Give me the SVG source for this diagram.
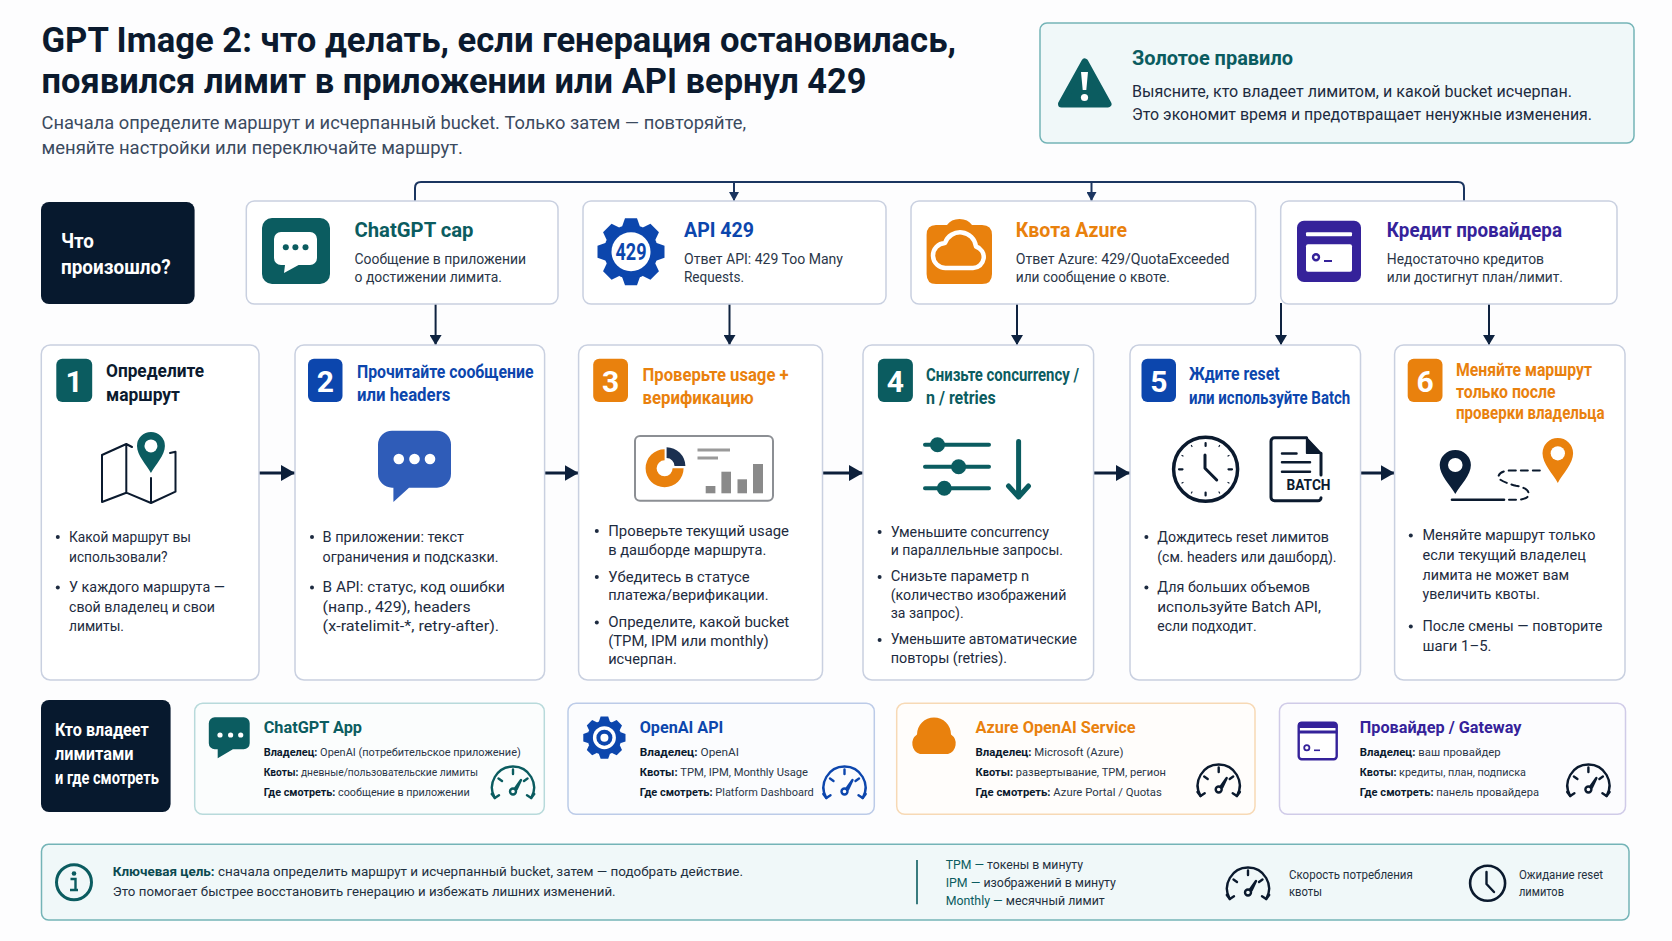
<svg xmlns="http://www.w3.org/2000/svg" width="1672" height="941" viewBox="0 0 1672 941">
<style>
text{font-family:"Roboto","Liberation Sans",sans-serif;fill:#1d2b40}
.h1{font-size:35px;font-weight:700;fill:#0b1a2e}
.sub{font-size:18px;fill:#3b4a5e}
.gh{font-size:20px;font-weight:700;fill:#0b5c60}
.gt{font-size:16px;fill:#1d2b40}
.dark{fill:#07192e}
.wt{font-size:20px;font-weight:700;fill:#fff}
.wt2{font-size:18px;font-weight:700;fill:#fff}
.ct{font-size:21px;font-weight:700}
.cd{font-size:14px;fill:#2a3648}
.st{font-size:18.5px;font-weight:700}
.dg{font-size:30px;font-weight:700;fill:#fff;text-anchor:middle}
.bl{font-size:14.5px;fill:#1d2b40}
.ot{font-size:16.5px;font-weight:700}
.ol{font-size:11.5px;fill:#2a3648}
.ol tspan{font-weight:700;fill:#0b1a2e}
.ft{font-size:13.5px;fill:#1f3040}
.ft tspan{font-weight:700;fill:#0b4a50}
.lg{font-size:13px;fill:#1f3040}
.lg tspan{fill:#0b5c60}
.sm{font-size:12px;fill:#1f3040}
.teal{fill:#0b5c60}.blue{fill:#0c46ad}.orange{fill:#e9810d}.purple{fill:#35229a}.black{fill:#0b1a2e}
.card{fill:#fff;stroke:#c9d0e0;stroke-width:1.5}
.pn{fill:#f0f8f9;stroke:#74b4b7;stroke-width:1.5}
.bul{fill:#1d2b40}
.c1{fill:none;stroke:#1b3560;stroke-width:2}
.c2{fill:none;stroke:#0f2340;stroke-width:2}
.c3{fill:none;stroke:#0c1f3a;stroke-width:3}
.ln{fill:none;stroke:#0b1a2e;stroke-linecap:round;stroke-linejoin:round}
</style>
<defs>
<marker id="mS" markerUnits="userSpaceOnUse" markerWidth="10" markerHeight="10" refX="9" refY="5" orient="auto"><path d="M0 0L9 5L0 10Z" fill="#1b3560"/></marker>
<marker id="mM" markerUnits="userSpaceOnUse" markerWidth="10" markerHeight="12" refX="10" refY="6" orient="auto"><path d="M0 0L10 6L0 12Z" fill="#0f2340"/></marker>
<marker id="mL" markerUnits="userSpaceOnUse" markerWidth="14" markerHeight="16" refX="14" refY="8" orient="auto"><path d="M0 0L14 8L0 16Z" fill="#0c1f3a"/></marker>
<g id="gauge" fill="none" stroke="currentColor" stroke-width="2.4" stroke-linecap="round" stroke-linejoin="round">
<path d="M4.8 32A21 21 0 1 1 41.2 32"/><path d="M1.8 28L4.8 32L9 29.2M44.2 28L41.2 32L37 29.2"/>
<path d="M23 3.5V8M8.5 12.5L12 15M37.5 12.5L34 15"/><circle cx="23" cy="25.5" r="3"/><path d="M25 22.5L31 14L26.5 23.5Z" fill="currentColor"/>
</g>
<g id="pin"><path d="M15 44C10 35 0 25 0 15A15 15 0 0 1 30 15C30 25 20 35 15 44Z"/><circle cx="15" cy="15" r="7" fill="#fff"/></g>
<g id="gear"><circle r="27"/><path id="t0" d="M-9 -25L-6 -33.5H6L9 -25Z"/><path d="M-9 -25L-6 -33.5H6L9 -25Z" transform="rotate(45)"/><path d="M-9 -25L-6 -33.5H6L9 -25Z" transform="rotate(90)"/><path d="M-9 -25L-6 -33.5H6L9 -25Z" transform="rotate(135)"/><path d="M-9 -25L-6 -33.5H6L9 -25Z" transform="rotate(180)"/><path d="M-9 -25L-6 -33.5H6L9 -25Z" transform="rotate(225)"/><path d="M-9 -25L-6 -33.5H6L9 -25Z" transform="rotate(270)"/><path d="M-9 -25L-6 -33.5H6L9 -25Z" transform="rotate(315)"/></g>
</defs>
<rect width="1672" height="941" fill="#fdfdfe"/>

<g id="header">
<text class="h1" x="41.5" y="52" textLength="914.5" lengthAdjust="spacingAndGlyphs">GPT Image 2: что делать, если генерация остановилась,</text>
<text class="h1" x="41.5" y="93" textLength="825" lengthAdjust="spacingAndGlyphs">появился лимит в приложении или API вернул 429</text>
<text class="sub" x="41.5" y="129" textLength="704.5" lengthAdjust="spacingAndGlyphs">Сначала определите маршрут и исчерпанный bucket. Только затем — повторяйте,</text>
<text class="sub" x="41.5" y="154" textLength="421.5" lengthAdjust="spacingAndGlyphs">меняйте настройки или переключайте маршрут.</text>
</g>

<g id="golden-rule">
<rect class="pn" x="1040" y="23" width="594" height="120" rx="7"/>
<path d="M1084.8 62L1108 104H1061.5Z" fill="#0b5c60" stroke="#0b5c60" stroke-width="7" stroke-linejoin="round"/>
<path d="M1081 72H1088L1086.3 90H1082.7Z" fill="#fff"/><circle cx="1084.5" cy="97.5" r="3.6" fill="#fff"/>
<text class="gh" x="1132" y="65" textLength="161" lengthAdjust="spacingAndGlyphs">Золотое правило</text>
<text class="gt" x="1132" y="97" textLength="440" lengthAdjust="spacingAndGlyphs">Выясните, кто владеет лимитом, и какой bucket исчерпан.</text>
<text class="gt" x="1132" y="120" textLength="460" lengthAdjust="spacingAndGlyphs">Это экономит время и предотвращает ненужные изменения.</text>
</g>

<g id="connectors">
<path class="c1" d="M415 201V188Q415 182 421 182H1458Q1464 182 1464 188V201"/>
<path class="c1" d="M734 182V201" marker-end="url(#mS)"/>
<path class="c1" d="M1091.5 182V201" marker-end="url(#mS)"/>
<path class="c2" d="M435.6 304V345" marker-end="url(#mM)"/>
<path class="c2" d="M729.5 304V345" marker-end="url(#mM)"/>
<path class="c2" d="M1017 304V345" marker-end="url(#mM)"/>
<path class="c2" d="M1281 303V345" marker-end="url(#mM)"/>
<path class="c2" d="M1489 304V345" marker-end="url(#mM)"/>
<path class="c3" d="M259 473H295" marker-end="url(#mL)"/>
<path class="c3" d="M544.6 473H578.6" marker-end="url(#mL)"/>
<path class="c3" d="M822.5 473H863" marker-end="url(#mL)"/>
<path class="c3" d="M1093.6 473H1130" marker-end="url(#mL)"/>
<path class="c3" d="M1360.5 473H1394.6" marker-end="url(#mL)"/>
</g>

<g id="what-happened">
<rect class="dark" x="41" y="202" width="153.6" height="102" rx="8"/>
<text class="wt" x="61" y="248" textLength="33" lengthAdjust="spacingAndGlyphs">Что</text>
<text class="wt" x="61" y="274" textLength="109.6" lengthAdjust="spacingAndGlyphs">произошло?</text>
</g>

<g id="trigger-chatgpt">
<rect class="card" x="246.3" y="201" width="311.7" height="103" rx="8"/>
<rect x="262" y="218" width="68" height="66" rx="10" fill="#0b5c60"/>
<path d="M281 232H310A7 7 0 0 1 317 239V258A7 7 0 0 1 310 265H298.6L284 273L285 265H281A7 7 0 0 1 274 258V239A7 7 0 0 1 281 232Z" fill="#fff"/>
<circle cx="285.8" cy="247.3" r="3" fill="#0b5c60"/><circle cx="295.4" cy="247.3" r="3" fill="#0b5c60"/><circle cx="305.5" cy="247.3" r="3" fill="#0b5c60"/>
<text class="ct teal" x="354.5" y="237" textLength="119" lengthAdjust="spacingAndGlyphs">ChatGPT cap</text>
<text class="cd" x="354.5" y="263.5" textLength="171.5" lengthAdjust="spacingAndGlyphs">Сообщение в приложении</text>
<text class="cd" x="354.5" y="281.5" textLength="147.5" lengthAdjust="spacingAndGlyphs">о достижении лимита.</text>
</g>

<g id="trigger-api">
<rect class="card" x="583" y="201" width="303" height="103" rx="8"/>
<use href="#gear" transform="translate(631 251.7)" fill="#0c46ad"/>
<circle cx="631" cy="251.7" r="19.5" fill="#fff"/>
<text x="615.5" y="259.7" font-size="23" font-weight="700" class="blue" textLength="31" lengthAdjust="spacingAndGlyphs">429</text>
<text class="ct blue" x="684" y="237" textLength="70" lengthAdjust="spacingAndGlyphs">API 429</text>
<text class="cd" x="684" y="263.5" textLength="159" lengthAdjust="spacingAndGlyphs">Ответ API: 429 Too Many</text>
<text class="cd" x="684" y="281.5" textLength="60" lengthAdjust="spacingAndGlyphs">Requests.</text>
</g>

<g id="trigger-azure">
<rect class="card" x="911" y="201" width="344.6" height="103" rx="8"/>
<path d="M936 225H947Q951 219 959.5 219Q968 219 972 225H982Q992 225 992 235V274Q992 284 982 284H936Q926.6 284 926.6 274V235Q926.6 225 936 225Z" fill="#e9810d"/>
<path d="M946 268H973A11 11 0 0 0 976 246.5A16 16 0 0 0 945 243A12.5 12.5 0 0 0 946 268Z" fill="#e9810d" stroke="#fff" stroke-width="4.5" stroke-linejoin="round"/>
<text class="ct orange" x="1015.7" y="237" textLength="111.3" lengthAdjust="spacingAndGlyphs">Квота Azure</text>
<text class="cd" x="1015.7" y="263.5" textLength="213.8" lengthAdjust="spacingAndGlyphs">Ответ Azure: 429/QuotaExceeded</text>
<text class="cd" x="1015.7" y="281.5" textLength="154.3" lengthAdjust="spacingAndGlyphs">или сообщение о квоте.</text>
</g>

<g id="trigger-provider">
<rect class="card" x="1280.7" y="201" width="336.3" height="103" rx="8"/>
<rect x="1297" y="220.7" width="64" height="61.3" rx="7" fill="#35229a"/>
<rect x="1306" y="232.3" width="46" height="4" fill="#fff" rx="1"/>
<rect x="1306" y="244.3" width="46" height="27.4" fill="#fff" rx="2"/>
<circle cx="1316" cy="257.3" r="3" fill="#fff" stroke="#35229a" stroke-width="2.4"/>
<rect x="1324" y="260" width="8" height="2" fill="#35229a"/>
<text class="ct purple" x="1386.8" y="237" textLength="175.2" lengthAdjust="spacingAndGlyphs">Кредит провайдера</text>
<text class="cd" x="1386.8" y="263.5" textLength="157.2" lengthAdjust="spacingAndGlyphs">Недостаточно кредитов</text>
<text class="cd" x="1386.8" y="281.5" textLength="176.2" lengthAdjust="spacingAndGlyphs">или достигнут план/лимит.</text>
</g>

<g id="step-1">
<rect class="card" x="41.3" y="345" width="217.7" height="335" rx="9"/>
<rect x="56.3" y="358.7" width="35.9" height="43.3" rx="6" fill="#0b5c60"/>
<text class="dg" x="74.2" y="391.5">1</text>
<text class="st black" x="106" y="376.7" textLength="98" lengthAdjust="spacingAndGlyphs">Определите</text>
<text class="st black" x="106" y="401" textLength="74" lengthAdjust="spacingAndGlyphs">маршрут</text>
<path class="ln" stroke-width="2" d="M132 447L126.3 444L102 455V502L126.3 492.7L151 503L175.5 491.7V451.7L170 453M126.3 444V492.7M151 478V503"/>
<use href="#pin" fill="#0b5c60" transform="translate(137 432) scale(.93)"/>
<circle class="bul" cx="57.8" cy="537" r="2"/>
<text class="bl" x="69" y="541.7" textLength="122" lengthAdjust="spacingAndGlyphs">Какой маршрут вы</text>
<text class="bl" x="69" y="561.7" textLength="98.6" lengthAdjust="spacingAndGlyphs">использовали?</text>
<circle class="bul" cx="57.8" cy="587.5" r="2"/>
<text class="bl" x="69" y="592" textLength="156" lengthAdjust="spacingAndGlyphs">У каждого маршрута —</text>
<text class="bl" x="69" y="611.7" textLength="146" lengthAdjust="spacingAndGlyphs">свой владелец и свои</text>
<text class="bl" x="69" y="631" textLength="55" lengthAdjust="spacingAndGlyphs">лимиты.</text>
</g>

<g id="step-2">
<rect class="card" x="295" y="345" width="249.6" height="335" rx="9"/>
<rect x="308" y="358.7" width="34.5" height="43.3" rx="6" fill="#0c46ad"/>
<text class="dg" x="325.3" y="391.5">2</text>
<text class="st blue" x="357" y="377.7" textLength="176.5" lengthAdjust="spacingAndGlyphs">Прочитайте сообщение</text>
<text class="st blue" x="357" y="401" textLength="93.4" lengthAdjust="spacingAndGlyphs">или headers</text>
<path d="M392 430.7H437A14 14 0 0 1 451 444.7V473.7A14 14 0 0 1 437 487.7H409L393.4 502V487.7H392A14 14 0 0 1 378 473.7V444.7A14 14 0 0 1 392 430.7Z" fill="#2f5cb8"/>
<circle cx="398.8" cy="459" r="5.3" fill="#fff"/><circle cx="414.5" cy="459" r="5.3" fill="#fff"/><circle cx="430" cy="459" r="5.3" fill="#fff"/>
<circle class="bul" cx="312" cy="537" r="2"/>
<text class="bl" x="322.6" y="541.7" textLength="141.4" lengthAdjust="spacingAndGlyphs">В приложении: текст</text>
<text class="bl" x="322.6" y="561.7" textLength="176" lengthAdjust="spacingAndGlyphs">ограничения и подсказки.</text>
<circle class="bul" cx="312" cy="587.5" r="2"/>
<text class="bl" x="322.6" y="592" textLength="182.2" lengthAdjust="spacingAndGlyphs">В API: статус, код ошибки</text>
<text class="bl" x="322.6" y="611.7" textLength="148" lengthAdjust="spacingAndGlyphs">(напр., 429), headers</text>
<text class="bl" x="322.6" y="631" textLength="176.5" lengthAdjust="spacingAndGlyphs">(x-ratelimit-*, retry-after).</text>
</g>

<g id="step-3">
<rect class="card" x="578.6" y="345" width="243.9" height="335" rx="9"/>
<rect x="593.2" y="358.7" width="34.8" height="43.3" rx="6" fill="#e9810d"/>
<text class="dg" x="610.6" y="391.5">3</text>
<text class="st orange" x="642.5" y="380.7" textLength="146.1" lengthAdjust="spacingAndGlyphs">Проверьте usage +</text>
<text class="st orange" x="642.5" y="404.3" textLength="111.1" lengthAdjust="spacingAndGlyphs">верификацию</text>
<rect x="635" y="436" width="138" height="64.7" rx="5" fill="#fff" stroke="#8c8f94" stroke-width="2"/>
<path d="M664.6 449.3A19 19 0 1 0 683.6 468.3H672.6A8 8 0 1 1 664.6 460.3Z" fill="#e9810d"/>
<path d="M666.6 447.3A19 19 0 0 1 685.4 466H674.5A8 8 0 0 0 666.6 458Z" fill="#1b3050"/>
<rect x="697.5" y="448.5" width="32.5" height="3" fill="#9a9a9a"/><rect x="697.5" y="456.5" width="20.5" height="3" fill="#9a9a9a"/>
<rect x="705.7" y="486" width="9.7" height="7.3" fill="#8a8a8a"/><rect x="721.4" y="471.7" width="9.6" height="21.6" fill="#8a8a8a"/><rect x="737.5" y="479.3" width="9.5" height="14" fill="#8a8a8a"/><rect x="753" y="464" width="10" height="29.3" fill="#8a8a8a"/>
<circle class="bul" cx="596.8" cy="531" r="2"/>
<text class="bl" x="608.2" y="535.7" textLength="180.8" lengthAdjust="spacingAndGlyphs">Проверьте текущий usage</text>
<text class="bl" x="608.2" y="555" textLength="158.2" lengthAdjust="spacingAndGlyphs">в дашборде маршрута.</text>
<circle class="bul" cx="596.8" cy="577" r="2"/>
<text class="bl" x="608.2" y="581.7" textLength="141.4" lengthAdjust="spacingAndGlyphs">Убедитесь в статусе</text>
<text class="bl" x="608.2" y="600" textLength="160.4" lengthAdjust="spacingAndGlyphs">платежа/верификации.</text>
<circle class="bul" cx="596.8" cy="622.5" r="2"/>
<text class="bl" x="608.2" y="627" textLength="181.1" lengthAdjust="spacingAndGlyphs">Определите, какой bucket</text>
<text class="bl" x="608.2" y="646" textLength="160.4" lengthAdjust="spacingAndGlyphs">(TPM, IPM или monthly)</text>
<text class="bl" x="608.2" y="664.3" textLength="68.6" lengthAdjust="spacingAndGlyphs">исчерпан.</text>
</g>

<g id="step-4">
<rect class="card" x="863" y="345" width="230.6" height="335" rx="9"/>
<rect x="877.9" y="358.7" width="35" height="43.3" rx="6" fill="#0b5c60"/>
<text class="dg" x="895.4" y="391.5">4</text>
<text class="st teal" x="926" y="380.7" textLength="153" lengthAdjust="spacingAndGlyphs">Снизьте concurrency /</text>
<text class="st teal" x="926" y="404.3" textLength="69.7" lengthAdjust="spacingAndGlyphs">n / retries</text>
<path d="M925 444.7H989M925 466.7H989M925 488.3H989" fill="none" stroke="#0b5c60" stroke-width="4" stroke-linecap="round"/>
<path d="M1018.6 441.5V497M1008.5 486L1018.6 497L1028.5 486" fill="none" stroke="#0b5c60" stroke-width="5" stroke-linecap="round" stroke-linejoin="round"/>
<circle cx="937.5" cy="444.7" r="7.5" fill="#0b5c60"/><circle cx="958.6" cy="466.7" r="7.5" fill="#0b5c60"/><circle cx="944.3" cy="488.3" r="7.5" fill="#0b5c60"/>
<circle class="bul" cx="879.6" cy="532" r="2"/>
<text class="bl" x="890.7" y="536.7" textLength="158.3" lengthAdjust="spacingAndGlyphs">Уменьшите concurrency</text>
<text class="bl" x="890.7" y="555" textLength="172.3" lengthAdjust="spacingAndGlyphs">и параллельные запросы.</text>
<circle class="bul" cx="879.6" cy="577" r="2"/>
<text class="bl" x="890.7" y="581.3" textLength="138.6" lengthAdjust="spacingAndGlyphs">Снизьте параметр n</text>
<text class="bl" x="890.7" y="600" textLength="175.7" lengthAdjust="spacingAndGlyphs">(количество изображений</text>
<text class="bl" x="890.7" y="618.3" textLength="72.9" lengthAdjust="spacingAndGlyphs">за запрос).</text>
<circle class="bul" cx="879.6" cy="640" r="2"/>
<text class="bl" x="890.7" y="644.3" textLength="186.3" lengthAdjust="spacingAndGlyphs">Уменьшите автоматические</text>
<text class="bl" x="890.7" y="662.7" textLength="116.3" lengthAdjust="spacingAndGlyphs">повторы (retries).</text>
</g>

<g id="step-5">
<rect class="card" x="1130" y="345" width="230.5" height="335" rx="9"/>
<rect x="1141.5" y="358.7" width="34.5" height="43.3" rx="6" fill="#0c46ad"/>
<text class="dg" x="1158.8" y="391.5">5</text>
<text class="st blue" x="1189" y="380" textLength="90.5" lengthAdjust="spacingAndGlyphs">Ждите reset</text>
<text class="st blue" x="1189" y="404" textLength="161.3" lengthAdjust="spacingAndGlyphs">или используйте Batch</text>
<circle cx="1205.6" cy="469.3" r="32" fill="none" stroke="#0b1a2e" stroke-width="3.5"/>
<path class="ln" stroke-width="3" d="M1205 455V468.3L1216.7 480"/>
<path class="ln" stroke-width="2.2" d="M1205.6 443V446M1205.6 492.5V495.5M1179 469.3H1182.5M1228.5 469.3H1232"/>
<path class="ln" stroke-width="1.2" d="M1219 446.5L1219.6 445.5M1228 456L1229 455.5M1228 482.5L1229 483M1219 492L1219.6 493M1192 492L1191.4 493M1183 482.5L1182 483M1183 456L1182 455.5M1192 446.5L1191.4 445.5"/>
<path class="ln" stroke-width="3" d="M1306.6 437.7H1274.5A3.5 3.5 0 0 0 1271 441.2V497.2A3.5 3.5 0 0 0 1274.5 500.7H1318A3 3 0 0 0 1321 497.7M1321 453.3V475"/>
<path d="M1306.6 437.7L1321.2 453.3H1306.6Z" fill="#0b1a2e" stroke="#0b1a2e" stroke-width="1.5" stroke-linejoin="round"/>
<path class="ln" stroke-width="2.5" d="M1282 453.5H1296.5M1282 462.3H1310M1282 471.7H1310"/>
<text x="1286.5" y="490" font-size="15" font-weight="700" class="black" textLength="44" lengthAdjust="spacingAndGlyphs">BATCH</text>
<circle class="bul" cx="1146.4" cy="537" r="2"/>
<text class="bl" x="1157.3" y="541.7" textLength="171.7" lengthAdjust="spacingAndGlyphs">Дождитесь reset лимитов</text>
<text class="bl" x="1157.3" y="561.7" textLength="179.2" lengthAdjust="spacingAndGlyphs">(см. headers или дашборд).</text>
<circle class="bul" cx="1146.4" cy="587.5" r="2"/>
<text class="bl" x="1157.3" y="592" textLength="152.7" lengthAdjust="spacingAndGlyphs">Для больших объемов</text>
<text class="bl" x="1157.3" y="611.7" textLength="163.7" lengthAdjust="spacingAndGlyphs">используйте Batch API,</text>
<text class="bl" x="1157.3" y="631" textLength="99.3" lengthAdjust="spacingAndGlyphs">если подходит.</text>
</g>

<g id="step-6">
<rect class="card" x="1394.6" y="345" width="230.4" height="335" rx="9"/>
<rect x="1407.7" y="358.7" width="34.8" height="43.3" rx="6" fill="#e9810d"/>
<text class="dg" x="1425.1" y="391.5">6</text>
<text class="st orange" x="1456" y="376" textLength="136" lengthAdjust="spacingAndGlyphs">Меняйте маршрут</text>
<text class="st orange" x="1456" y="397.7" textLength="99.6" lengthAdjust="spacingAndGlyphs">только после</text>
<text class="st orange" x="1456" y="419.3" textLength="148.5" lengthAdjust="spacingAndGlyphs">проверки владельца</text>
<use href="#pin" fill="#0b1f38" transform="translate(1439.7 450) scale(1.04 1)"/>
<use href="#pin" fill="#e9810d" transform="translate(1542.5 438) scale(1.02 1.02)"/>
<path class="ln" stroke-width="2.6" d="M1452 499.7H1504"/>
<path class="ln" stroke-width="2" stroke-dasharray="7 5" d="M1509 499.7H1520Q1530 498 1528.5 493Q1528 488 1516 485.7Q1498 481 1498.5 476.7Q1499 471 1510 470.5H1544"/>
<circle class="bul" cx="1410.8" cy="535.5" r="2"/>
<text class="bl" x="1422.5" y="540" textLength="172.9" lengthAdjust="spacingAndGlyphs">Меняйте маршрут только</text>
<text class="bl" x="1422.5" y="560" textLength="163.3" lengthAdjust="spacingAndGlyphs">если текущий владелец</text>
<text class="bl" x="1422.5" y="580" textLength="146.5" lengthAdjust="spacingAndGlyphs">лимита не может вам</text>
<text class="bl" x="1422.5" y="599.3" textLength="117.5" lengthAdjust="spacingAndGlyphs">увеличить квоты.</text>
<circle class="bul" cx="1410.8" cy="626.5" r="2"/>
<text class="bl" x="1422.5" y="631" textLength="179.9" lengthAdjust="spacingAndGlyphs">После смены — повторите</text>
<text class="bl" x="1422.5" y="651" textLength="69" lengthAdjust="spacingAndGlyphs">шаги 1–5.</text>
</g>

<g id="who-owns">
<rect class="dark" x="41" y="700" width="129.6" height="112" rx="8"/>
<text class="wt2" x="55" y="735.7" textLength="93.7" lengthAdjust="spacingAndGlyphs">Кто владеет</text>
<text class="wt2" x="55" y="760" textLength="78.6" lengthAdjust="spacingAndGlyphs">лимитами</text>
<text class="wt2" x="55" y="784" textLength="103.8" lengthAdjust="spacingAndGlyphs">и где смотреть</text>
</g>

<g id="owner-chatgpt">
<rect x="194.7" y="703.3" width="349.6" height="111" rx="8" fill="#fbfdfd" stroke="#b8dadb" stroke-width="1.5"/>
<path d="M215 717.3H243.7A6 6 0 0 1 249.7 723.3V743.3A6 6 0 0 1 243.7 749.3H232.9L217.7 758.3V749.3H215A6 6 0 0 1 208.8 743.3V723.3A6 6 0 0 1 215 717.3Z" fill="#0b5c60"/>
<circle cx="220" cy="735" r="2.6" fill="#fff"/><circle cx="230.6" cy="735" r="2.6" fill="#fff"/><circle cx="240.7" cy="735" r="2.6" fill="#fff"/>
<text class="ot teal" x="263.7" y="732.7" textLength="98.3" lengthAdjust="spacingAndGlyphs">ChatGPT App</text>
<text class="ol" x="263.7" y="756" textLength="257.1" lengthAdjust="spacingAndGlyphs"><tspan>Владелец:</tspan> OpenAI (потребительское приложение)</text>
<text class="ol" x="263.7" y="776" textLength="214.3" lengthAdjust="spacingAndGlyphs"><tspan>Квоты:</tspan> дневные/пользовательские лимиты</text>
<text class="ol" x="263.7" y="796" textLength="206" lengthAdjust="spacingAndGlyphs"><tspan>Где смотреть:</tspan> сообщение в приложении</text>
<use href="#gauge" x="490" y="766" style="color:#0b5c60"/>
</g>

<g id="owner-openai">
<rect x="568" y="703.3" width="306.3" height="111" rx="8" fill="#fbfcfe" stroke="#bccbe8" stroke-width="1.5"/>
<use href="#gear" transform="translate(604.4 737.7) scale(.63)" fill="#0c46ad"/>
<circle cx="604.4" cy="737.7" r="11.5" fill="#fff"/><circle cx="604.4" cy="737.7" r="8" fill="#0c46ad"/><circle cx="604.4" cy="737.7" r="4" fill="#fff"/>
<text class="ot blue" x="639.7" y="732.7" textLength="83.6" lengthAdjust="spacingAndGlyphs">OpenAI API</text>
<text class="ol" x="639.7" y="756" textLength="99.3" lengthAdjust="spacingAndGlyphs"><tspan>Владелец:</tspan> OpenAI</text>
<text class="ol" x="639.7" y="776" textLength="168.3" lengthAdjust="spacingAndGlyphs"><tspan>Квоты:</tspan> TPM, IPM, Monthly Usage</text>
<text class="ol" x="639.7" y="796" textLength="174" lengthAdjust="spacingAndGlyphs"><tspan>Где смотреть:</tspan> Platform Dashboard</text>
<use href="#gauge" x="821.5" y="766" style="color:#0c46ad"/>
</g>

<g id="owner-azure">
<rect x="896.7" y="703.3" width="358.3" height="111" rx="8" fill="#fffdfb" stroke="#f7d9b5" stroke-width="1.5"/>
<path d="M920 754H948A11 11 0 0 0 951 734.5A17 17 0 0 0 917 734.5A11 11 0 0 0 920 754Z" fill="#e9810d"/>
<text class="ot orange" x="975.5" y="732.7" textLength="160.1" lengthAdjust="spacingAndGlyphs">Azure OpenAI Service</text>
<text class="ol" x="975.5" y="756" textLength="147.9" lengthAdjust="spacingAndGlyphs"><tspan>Владелец:</tspan> Microsoft (Azure)</text>
<text class="ol" x="975.5" y="776" textLength="190.4" lengthAdjust="spacingAndGlyphs"><tspan>Квоты:</tspan> развертывание, TPM, регион</text>
<text class="ol" x="975.5" y="796" textLength="186.3" lengthAdjust="spacingAndGlyphs"><tspan>Где смотреть:</tspan> Azure Portal / Quotas</text>
<use href="#gauge" x="1195.7" y="764" style="color:#0b1a2e"/>
</g>

<g id="owner-provider">
<rect x="1279.5" y="703.3" width="346" height="111" rx="8" fill="#fcfcfe" stroke="#d0cbe8" stroke-width="1.5"/>
<rect x="1298.7" y="722.7" width="38" height="36.5" rx="3" fill="#fff" stroke="#35229a" stroke-width="2.4"/>
<path d="M1298 725Q1298 722 1301 722H1334Q1337.4 722 1337.4 725V728H1298Z" fill="#35229a"/><rect x="1298" y="730.5" width="39.4" height="3" fill="#35229a"/>
<circle cx="1306.8" cy="747.7" r="2.6" fill="#fff" stroke="#35229a" stroke-width="1.8"/><rect x="1314" y="749.5" width="6" height="1.6" fill="#35229a"/>
<text class="ot purple" x="1359.8" y="732.7" textLength="161.6" lengthAdjust="spacingAndGlyphs">Провайдер / Gateway</text>
<text class="ol" x="1359.8" y="756" textLength="140.9" lengthAdjust="spacingAndGlyphs"><tspan>Владелец:</tspan> ваш провайдер</text>
<text class="ol" x="1359.8" y="776" textLength="166.2" lengthAdjust="spacingAndGlyphs"><tspan>Квоты:</tspan> кредиты, план, подписка</text>
<text class="ol" x="1359.8" y="796" textLength="179.2" lengthAdjust="spacingAndGlyphs"><tspan>Где смотреть:</tspan> панель провайдера</text>
<use href="#gauge" x="1565.4" y="764" style="color:#0b1a2e"/>
</g>

<g id="footer">
<rect class="pn" x="41.5" y="844.3" width="1587.5" height="75.7" rx="7"/>
<circle cx="74" cy="882.3" r="17.5" fill="none" stroke="#0b5c60" stroke-width="3"/>
<circle cx="74" cy="873.5" r="2.3" fill="#0b5c60"/>
<path d="M70.5 879H75.5V890H78M70 890H78" fill="none" stroke="#0b5c60" stroke-width="2.4"/>
<text class="ft" x="112.8" y="876" textLength="630.2" lengthAdjust="spacingAndGlyphs"><tspan>Ключевая цель:</tspan> сначала определить маршрут и исчерпанный bucket, затем — подобрать действие.</text>
<text class="ft" x="112.8" y="895.7" textLength="502.8" lengthAdjust="spacingAndGlyphs">Это помогает быстрее восстановить генерацию и избежать лишних изменений.</text>
<path d="M917 860V904.3" stroke="#0b5c60" stroke-width="1.6" fill="none"/>
<text class="lg" x="945.7" y="869.3" textLength="137.3" lengthAdjust="spacingAndGlyphs"><tspan>TPM —</tspan> токены в минуту</text>
<text class="lg" x="945.7" y="887.3" textLength="170.2" lengthAdjust="spacingAndGlyphs"><tspan>IPM —</tspan> изображений в минуту</text>
<text class="lg" x="945.7" y="905" textLength="159" lengthAdjust="spacingAndGlyphs"><tspan>Monthly —</tspan> месячный лимит</text>
<use href="#gauge" x="1225" y="867" style="color:#0b1a2e"/>
<text class="sm" x="1289" y="879.3" textLength="123.8" lengthAdjust="spacingAndGlyphs">Скорость потребления</text>
<text class="sm" x="1289" y="896" textLength="33" lengthAdjust="spacingAndGlyphs">квоты</text>
<circle cx="1487.6" cy="883.3" r="17.5" fill="none" stroke="#0b1a2e" stroke-width="2.6"/>
<path class="ln" stroke-width="2.4" d="M1486.5 872V884L1494 892"/>
<text class="sm" x="1518.9" y="879.3" textLength="84.1" lengthAdjust="spacingAndGlyphs">Ожидание reset</text>
<text class="sm" x="1518.9" y="896" textLength="45.1" lengthAdjust="spacingAndGlyphs">лимитов</text>
</g>
</svg>
